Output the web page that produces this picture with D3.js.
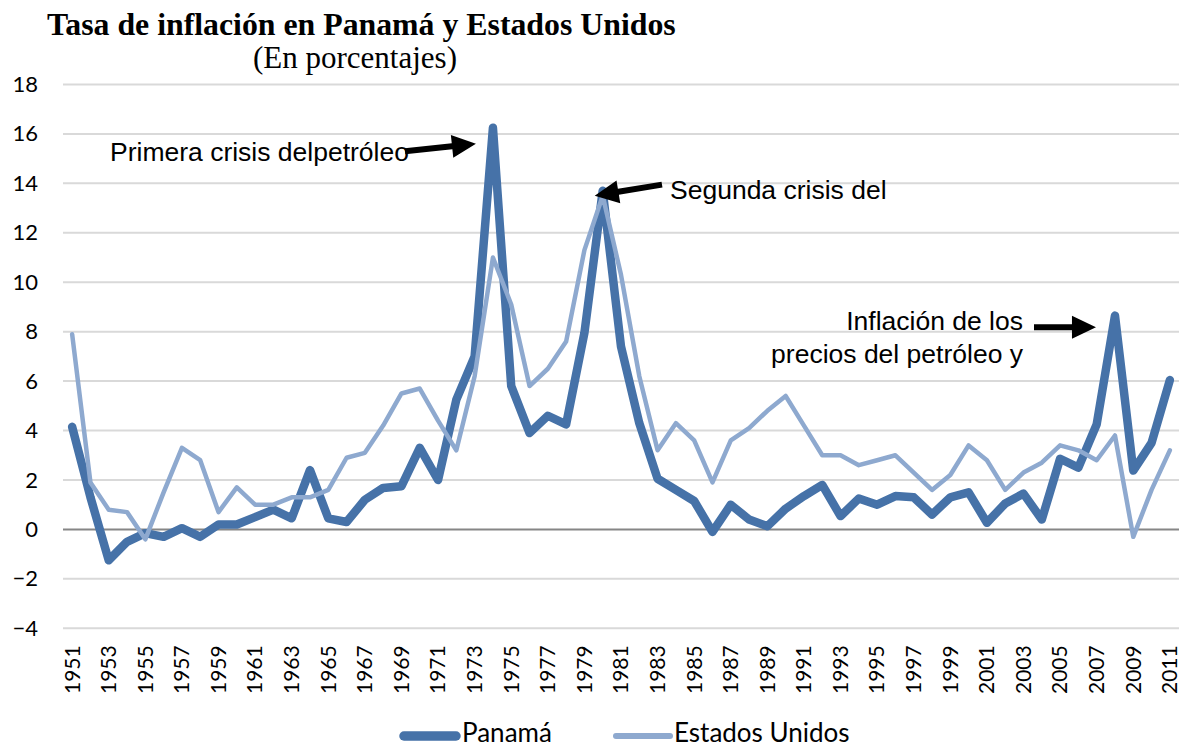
<!DOCTYPE html>
<html>
<head>
<meta charset="utf-8">
<script src="https://cdn.jsdelivr.net/npm/d3@7"></script>
<style>
  html, body { margin: 0; padding: 0; background: #fff; }
  svg { display: block; }
</style>
</head>
<body>
<svg id="canvas" width="1182" height="747"></svg>
<script>
// ************************************************************************************************** //
// Data

var years = [1951, 1952, 1953, 1954, 1955, 1956, 1957, 1958, 1959, 1960,
             1961, 1962, 1963, 1964, 1965, 1966, 1967, 1968, 1969, 1970,
             1971, 1972, 1973, 1974, 1975, 1976, 1977, 1978, 1979, 1980,
             1981, 1982, 1983, 1984, 1985, 1986, 1987, 1988, 1989, 1990,
             1991, 1992, 1993, 1994, 1995, 1996, 1997, 1998, 1999, 2000,
             2001, 2002, 2003, 2004, 2005, 2006, 2007, 2008, 2009, 2010, 2011];

var panama = [4.15, 1.3, -1.25, -0.5, -0.15, -0.3, 0.05, -0.3, 0.2, 0.2,
              0.5, 0.8, 0.45, 2.4, 0.45, 0.3, 1.2, 1.68, 1.75, 3.3,
              2.0, 5.25, 7.0, 16.25, 5.8, 3.9, 4.6, 4.25, 7.95, 13.7,
              7.4, 4.3, 2.05, 1.6, 1.15, -0.1, 1.0, 0.4, 0.13, 0.84,
              1.35, 1.8, 0.54, 1.25, 1.0, 1.35, 1.3, 0.6, 1.3, 1.5,
              0.27, 1.05, 1.45, 0.4, 2.86, 2.5, 4.25, 8.65, 2.38, 3.5, 6.04];

var estadosUnidos = [7.9, 1.9, 0.8, 0.7, -0.4, 1.5, 3.3, 2.8, 0.7, 1.7,
                     1.0, 1.0, 1.3, 1.3, 1.6, 2.9, 3.1, 4.2, 5.5, 5.7,
                     4.4, 3.2, 6.2, 11.0, 9.1, 5.8, 6.5, 7.6, 11.3, 13.5,
                     10.3, 6.2, 3.2, 4.3, 3.6, 1.9, 3.6, 4.1, 4.8, 5.4,
                     4.2, 3.0, 3.0, 2.6, 2.8, 3.0, 2.3, 1.6, 2.2, 3.4,
                     2.8, 1.6, 2.3, 2.7, 3.4, 3.2, 2.8, 3.8, -0.3, 1.6, 3.2];

var yTicks = [-4, -2, 0, 2, 4, 6, 8, 10, 12, 14, 16, 18];
var xTickYears = years.filter((d, i) => i % 2 == 0);

var seriesNames = ['Panamá', 'Estados Unidos'];
var titleText = 'Tasa de inflación en Panamá y Estados Unidos';
var subtitleText = '(En porcentajes)';

var colorDark = '#4672a8';
var colorLight = '#8ea9cf';
var sansFont = 'Lato, "Open Sans", sans-serif';
var arialFont = '"Liberation Sans", Arial, sans-serif';
var serifFont = '"Liberation Serif", "Times New Roman", serif';

// ************************************************************************************************** //
// Scales

var svg = d3.select('#canvas');

var xScale = d3.scaleBand().domain(years).range([63, 1179]).padding(0);
var xc = (d) => { return xScale(d) + 0.5*xScale.bandwidth() };
var yScale = d3.scaleLinear().domain([-4, 18]).range([628.3, 84.5]);

// ************************************************************************************************** //
// Title

svg.append('text').attr('x', 47).attr('y', 35)
  .style('font-family', serifFont).style('font-weight', 'bold').style('font-size', '31.8px')
  .style('fill', '#000').text(titleText);

svg.append('text').attr('x', 253).attr('y', 68)
  .style('font-family', serifFont).style('font-size', '31px')
  .style('fill', '#000').text(subtitleText);

// ************************************************************************************************** //
// Grid and axes

var grid = svg.append('g');
grid.selectAll('line').data(yTicks.filter((d) => d != 0)).enter().append('line')
  .attr('x1', 63).attr('x2', 1179)
  .attr('y1', (d) => yScale(d)).attr('y2', (d) => yScale(d))
  .style('stroke', '#d9d9d9').style('stroke-width', 2);

var yAxis = svg.append('g').attr('transform', 'translate(38,0)')
  .call(d3.axisLeft(yScale).tickValues(yTicks).tickSize(0).tickPadding(0).tickFormat(d3.format('d')));
yAxis.select('.domain').remove();
yAxis.selectAll('text').style('font-family', sansFont).style('font-size', '22px').style('fill', '#000');

var xAxis = svg.append('g').attr('transform', 'translate(0,' + yScale(-4) + ')')
  .call(d3.axisBottom(xScale).tickValues(xTickYears).tickSize(0).tickPadding(0));
xAxis.select('.domain').remove();
xAxis.selectAll('text')
  .attr('transform', 'rotate(-90)')
  .attr('x', -17).attr('y', 0).attr('dy', '0.35em')
  .style('text-anchor', 'end')
  .style('font-family', sansFont).style('font-size', '21px').style('fill', '#000');

svg.append('line')
  .attr('x1', 63).attr('x2', 1179).attr('y1', yScale(0)).attr('y2', yScale(0))
  .style('stroke', '#868686').style('stroke-width', 2);

// ************************************************************************************************** //
// Lines

var line_gen = d3.line().x((d) => xc(d.year)).y((d) => yScale(d.value));

var panamaData = years.map((d, i) => { return { year: d, value: panama[i] } });
var usData = years.map((d, i) => { return { year: d, value: estadosUnidos[i] } });

svg.append('path').attr('d', line_gen(panamaData))
  .style('fill', 'none').style('stroke', colorDark).style('stroke-width', 8.5)
  .style('stroke-linejoin', 'round').style('stroke-linecap', 'round');

svg.append('path').attr('d', line_gen(usData))
  .style('fill', 'none').style('stroke', colorLight).style('stroke-width', 4.5)
  .style('stroke-linejoin', 'round').style('stroke-linecap', 'round');

// ************************************************************************************************** //
// Annotations

function arrow(x1, y1, x2, y2){
  var dx = x2 - x1, dy = y2 - y1;
  var len = Math.sqrt(dx*dx + dy*dy);
  var ux = dx/len, uy = dy/len, nx = -uy, ny = ux;
  var headLen = 24, headW = 11.5, shaftW = 3;
  var bx = x2 - ux*headLen, by = y2 - uy*headLen;
  var pts = [
    [x1 + nx*shaftW, y1 + ny*shaftW],
    [bx + nx*shaftW, by + ny*shaftW],
    [bx + nx*headW, by + ny*headW],
    [x2, y2],
    [bx - nx*headW, by - ny*headW],
    [bx - nx*shaftW, by - ny*shaftW],
    [x1 - nx*shaftW, y1 - ny*shaftW]
  ];
  svg.append('path').attr('d', 'M' + pts.map((p) => p.join(',')).join('L') + 'Z').style('fill', '#000');
}

var annot = svg.append('g').style('font-family', arialFont).style('font-size', '26.5px').style('fill', '#000');

annot.append('text').attr('x', 110).attr('y', 161).text('Primera crisis delpetróleo');
arrow(405, yScale(15.3), xc(1974) - 17, yScale(15.6));

annot.append('text').attr('x', 670).attr('y', 199).text('Segunda crisis del');
arrow(662, yScale(13.95), xc(1980) - 8, yScale(13.5));

annot.append('text').attr('x', 1023).attr('y', 330).style('text-anchor', 'end').text('Inflación de los');
annot.append('text').attr('x', 1023).attr('y', 363).style('text-anchor', 'end').text('precios del petróleo y');
arrow(1034, yScale(8.18), xc(2008) - 19, yScale(8.18));

// ************************************************************************************************** //
// Legend

var legend = svg.append('g');
legend.append('line').attr('x1', 404).attr('x2', 456).attr('y1', 736).attr('y2', 736)
  .style('stroke', colorDark).style('stroke-width', 9.5).style('stroke-linecap', 'round');
legend.append('text').attr('x', 462).attr('y', 742)
  .style('font-family', sansFont).style('font-size', '26px').style('fill', '#000').text(seriesNames[0]);

legend.append('line').attr('x1', 616).attr('x2', 670).attr('y1', 736).attr('y2', 736)
  .style('stroke', colorLight).style('stroke-width', 6).style('stroke-linecap', 'round');
legend.append('text').attr('x', 674).attr('y', 742)
  .style('font-family', sansFont).style('font-size', '26px').style('fill', '#000').text(seriesNames[1]);
</script>
</body>
</html>
